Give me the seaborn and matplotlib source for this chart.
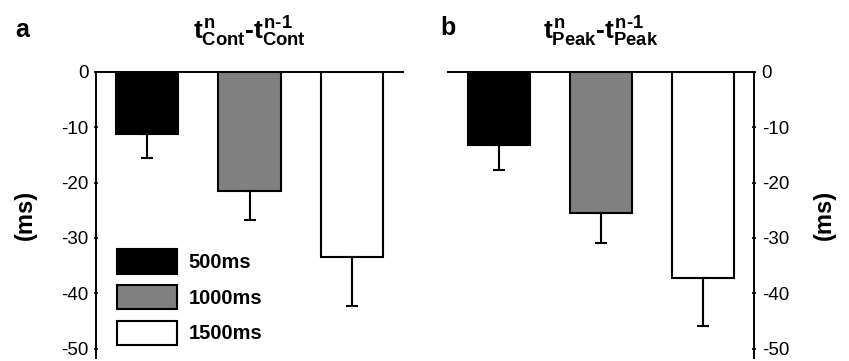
import matplotlib
matplotlib.use("Agg")
import matplotlib.pyplot as plt
import seaborn as sns
import pandas as pd
from matplotlib.patches import Patch

conditions = ["500ms", "1000ms", "1500ms"]
cont_means = [-11.2, -21.5, -33.5]
cont_err = [4.4, 5.3, 8.8]
peak_means = [-13.2, -25.4, -37.3]
peak_err = [4.5, 5.6, 8.7]
colors = ["#000000", "#808080", "#ffffff"]
yticks = [0, -10, -20, -30, -40, -50]

sns.set_theme(style="white")
plt.rcParams["font.family"] = ["Liberation Sans", "DejaVu Sans"]
plt.rcParams["mathtext.fontset"] = "custom"
plt.rcParams["mathtext.rm"] = "Liberation Sans:bold"
plt.rcParams["mathtext.bf"] = "Liberation Sans:bold"
plt.rcParams["mathtext.it"] = "Liberation Sans:bold"
for k in ["text.color", "axes.labelcolor", "xtick.color", "ytick.color", "axes.edgecolor"]:
    plt.rcParams[k] = "black"

fig = plt.figure(figsize=(8.49, 3.61), dpi=100)
axa = fig.add_axes([96/849, 1-358/361, 307/849, 286/361])
axb = fig.add_axes([448/849, 1-358/361, 306/849, 286/361])

def panel(ax, means, errs, title, side):
    df = pd.DataFrame({"cond": conditions, "val": means})
    sns.barplot(data=df, x="cond", y="val", hue="cond", order=conditions,
                hue_order=conditions, palette=colors, edgecolor="black",
                linewidth=1.5, width=0.61, errorbar=None, legend=False,
                saturation=1, ax=ax)
    ax.errorbar(range(len(means)), means, yerr=[errs, [0]*len(errs)],
                fmt="none", ecolor="black", elinewidth=1.5, capsize=4.5,
                capthick=1.5, zorder=1)
    ax.set_xlim(-0.5, 2.5)
    ax.set_ylim(-51.7, 0)
    ax.set_yticks(yticks)
    ax.set_yticklabels([str(t) for t in yticks], fontsize=13.5)
    ax.set_xticks([])
    ax.set_xlabel("")
    for s in ax.spines.values():
        s.set_color("black")
        s.set_linewidth(1.4)
    ax.spines["bottom"].set_visible(False)
    if side == "left":
        ax.spines["right"].set_visible(False)
        ax.yaxis.tick_left()
        ax.set_ylabel("(ms)", fontsize=17, fontweight="bold")
        ax.yaxis.set_label_coords(-0.192, 0.5)
    else:
        ax.spines["left"].set_visible(False)
        ax.yaxis.tick_right()
        ax.yaxis.set_label_position("right")
        ax.set_ylabel("(ms)", fontsize=17, fontweight="bold", rotation=90)
        ax.yaxis.set_label_coords(1.193, 0.5)
    ax.tick_params(axis="y", length=3, width=1.2, direction="inout", pad=4)
    ax.set_title(title, fontsize=19, pad=23)

panel(axa, cont_means, cont_err,
      r"$t^{n}_{Cont}\text{-}t^{n\text{-}1}_{Cont}$", "left")
panel(axb, peak_means, peak_err,
      r"$t^{n}_{Peak}\text{-}t^{n\text{-}1}_{Peak}$", "right")

handles = [Patch(facecolor=c, edgecolor="black", linewidth=1.5) for c in colors]
axa.legend(handles, conditions, loc="lower left", bbox_to_anchor=(0.068, 0.045),
           frameon=False, prop={"weight": "bold", "size": 14.5},
           handlelength=3.0, handleheight=1.5, labelspacing=0.55,
           handletextpad=0.55, borderpad=0, borderaxespad=0)

fig.text(15/849, 1-37/361, "a", fontsize=18, fontweight="bold", va="baseline")
fig.text(440/849, 1-35/361, "b", fontsize=18, fontweight="bold", va="baseline")

fig.savefig("out.png", dpi=100)
